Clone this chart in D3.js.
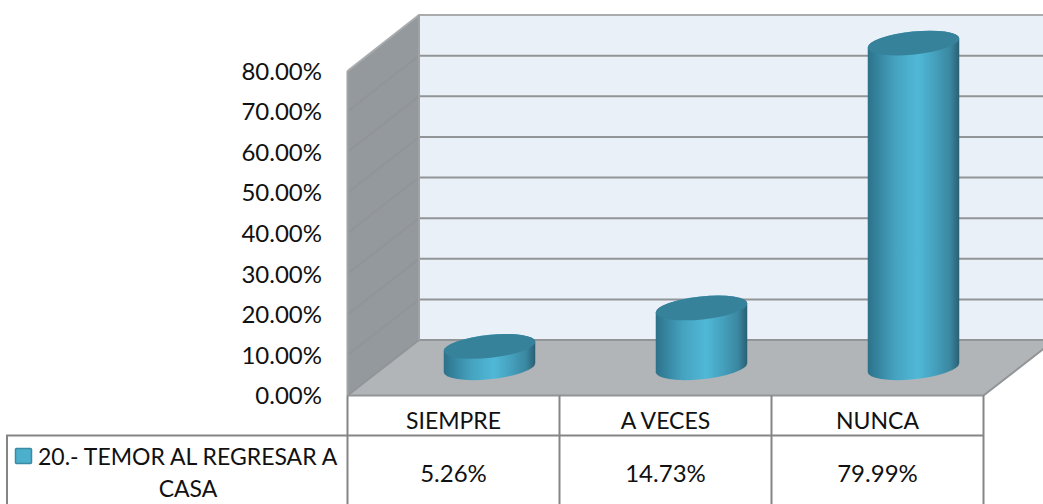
<!DOCTYPE html>
<html><head><meta charset="utf-8">
<script src="https://cdn.jsdelivr.net/npm/d3@7"></script>
<style>html,body{margin:0;padding:0;background:#fff;overflow:hidden}svg{display:block}text{font-family:Lato,"Open Sans",sans-serif;fill:#111}</style>
</head><body><svg id="c" width="1043" height="504"></svg>
<script>
const categories = ["SIEMPRE", "A VECES", "NUNCA"];
const values = [5.26, 14.73, 79.99];
const valueLabels = ["5.26%", "14.73%", "79.99%"];
const tickValues = [0, 10, 20, 30, 40, 50, 60, 70, 80];
const legendLines = ["20.- TEMOR AL REGRESAR A", "CASA"];

const W = 1043, H = 504;
const svg = d3.select("#c");
const x0 = 347.5, x1 = 983.5;
const x = d3.scaleBand().domain(categories).range([x0, x1]);
const yFront = d3.scaleLinear().domain([0, 80]).range([395.5, 71]);
const yBack = d3.scaleLinear().domain([0, 80]).range([340, 15]);
const dx = 71.5;
const line = "#929597", tbl = "#858585";
const poly = p => "M" + p.map(d => d.join(",")).join("L") + "Z";

const defs = svg.append("defs");
const g = defs.append("linearGradient").attr("id", "cyl");
[[0, "#2e7189"], [0.08, "#337f99"], [0.3, "#45a3c0"], [0.55, "#50b8d7"], [0.72, "#46a2bf"], [0.9, "#3a87a0"], [1, "#2a5f74"]]
  .forEach(s => g.append("stop").attr("offset", s[0]).attr("stop-color", s[1]));

// walls
svg.append("path").attr("d", poly([[x0 + dx, yBack(0)], [x0 + dx, yBack(80)], [W + 20, yBack(80)], [W + 20, yBack(0)]])).attr("fill", "#e9f0f7");
svg.append("path").attr("d", poly([[x0, yFront(0)], [x0, yFront(80)], [x0 + dx, yBack(80)], [x0 + dx, yBack(0)]])).attr("fill", "#93999c");
svg.append("path").attr("d", poly([[x0, yFront(0)], [x1, yFront(0)], [x1 + dx, yBack(0)], [x0 + dx, yBack(0)]])).attr("fill", "#b1b5b8");

// gridlines
const grid = svg.append("g").attr("fill", "none").attr("stroke", line).attr("stroke-width", 2);
tickValues.forEach(v => {
  grid.append("path").attr("d", `M${x0},${yFront(v)}L${x0 + dx},${yBack(v)}L${W + 20},${yBack(v)}`)
    .attr("stroke", v === 80 ? "#a9abad" : line);
});
grid.append("path").attr("d", `M${x0 + dx},${yBack(0)}V${yBack(80)}`).attr("stroke", "#a0a3a5");
grid.append("path").attr("d", `M${x0},${yFront(0)}V${yFront(80)}`).attr("stroke", "#a0a3a5");
grid.append("path").attr("d", `M${x0},${yFront(0)}H${x1}L${x1 + dx},${yBack(0)}`);

// cylinders
const rx = 46, ry = 11.5, rot = -6, t = rot * Math.PI / 180;
const ext = Math.hypot(rx * Math.cos(t), ry * Math.sin(t));
const off = (rx * rx - ry * ry) * Math.sin(t) * Math.cos(t) / ext;
const midDx = 36, baseY = v => (yFront(v) + yBack(v)) / 2;
const bars = svg.append("g").selectAll("g").data(categories).join("g");
bars.append("path")
  .attr("d", (c, i) => {
    const cx = x(c) + x.bandwidth() / 2 + midDx, yt = baseY(values[i]), yb = baseY(0);
    return `M${cx - ext},${yt - off}L${cx - ext},${yb - off}` +
      `A${rx},${ry},${rot},0,0,${cx + ext},${yb + off}L${cx + ext},${yt + off}` +
      `A${rx},${ry},${rot},0,0,${cx - ext},${yt - off}Z`;
  }).attr("fill", "url(#cyl)");
bars.append("ellipse")
  .attr("rx", rx).attr("ry", ry).attr("fill", "#37829b")
  .attr("transform", (c, i) => `translate(${x(c) + x.bandwidth() / 2 + midDx},${baseY(values[i])}) rotate(${rot})`);

// y axis
const axis = d3.axisLeft(yFront).tickValues(tickValues).tickSize(0).tickPadding(0)
  .tickFormat(d => d3.format(".2f")(d) + "%");
const ag = svg.append("g").attr("transform", "translate(322,0.5)").call(axis);
ag.select(".domain").remove();
ag.selectAll("text").attr("font-size", 24).attr("font-family", "Lato").attr("fill", "#111");

// data table
const tb = svg.append("g").attr("fill", "none").attr("stroke", tbl).attr("stroke-width", 2);
tb.append("path").attr("d", `M7,${H + 5}V435.5H${x1}`);
[x0, ...categories.map(c => x(c) + x.bandwidth())].forEach(v =>
  tb.append("path").attr("d", `M${v},${yFront(0)}V${H + 5}`));

svg.append("g").selectAll("text").data(categories).join("text")
  .attr("x", c => x(c) + x.bandwidth() / 2).attr("y", 429).attr("text-anchor", "middle")
  .attr("font-size", 23).text(c => c);
svg.append("g").selectAll("text").data(valueLabels).join("text")
  .attr("x", (d, i) => x(categories[i]) + x.bandwidth() / 2).attr("y", 481.5).attr("text-anchor", "middle")
  .attr("font-size", 24).text(d => d);

// legend key
svg.append("rect").attr("x", 15.5).attr("y", 448.5).attr("width", 16).attr("height", 15).attr("rx", 1)
  .attr("fill", "#4cafcb").attr("stroke", "#3a8ba3").attr("stroke-width", 1.5);
svg.append("text").attr("x", 38).attr("y", 464.5).attr("font-size", 23).text(legendLines[0]);
svg.append("text").attr("x", 188).attr("y", 497).attr("text-anchor", "middle").attr("font-size", 23).text(legendLines[1]);
</script></body></html>
